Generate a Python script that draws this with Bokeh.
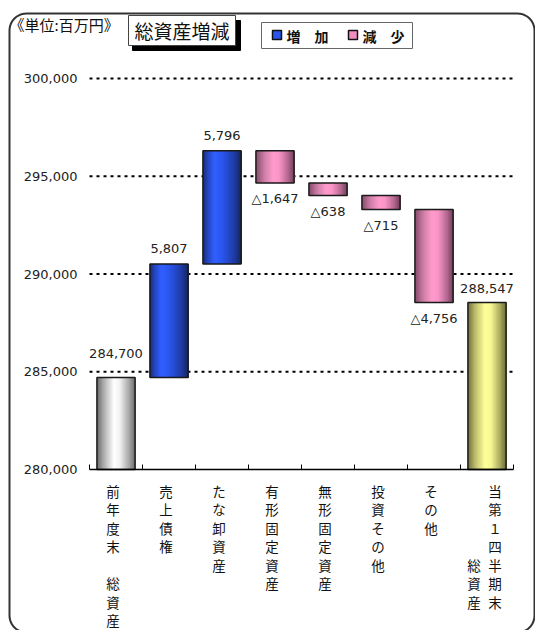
import numpy as np
from bokeh.plotting import figure
from bokeh.models import ColumnDataSource, Range1d, FixedTicker, NumeralTickFormatter
from bokeh.embed import file_html
from bokeh.resources import INLINE
from bokeh.core.properties import value

# ---------------- data ----------------
categories = ["前年度末総資産", "売上債権", "たな卸資産", "有形固定資産",
              "無形固定資産", "投資その他", "その他", "当第１四半期末総資産"]
# vertical rendering of each category label (one string per text column, space = blank line)
label_columns = [["前年度末 総資産"], ["売上債権"], ["たな卸資産"], ["有形固定資産"],
                 ["無形固定資産"], ["投資その他"], ["その他"], ["    総資産", "当第１四半期末"]]
amounts = [284700, 5807, 5796, -1647, -638, -715, -4756, 288547]
kinds = ["total", "inc", "inc", "dec", "dec", "dec", "dec", "total_end"]
y_ticks = [280000, 285000, 290000, 295000, 300000]
unit_text = "《単位:百万円》"
title_text = "総資産増減"
legend_labels = ["増　加", "減　少"]

# ---------------- styles ----------------
FONT = "Noto Sans CJK JP"
NUMFONT = "DejaVu Sans"
gradients = {
    "total": [(0, "#6a6a6a"), (0.2, "#b4b4b4"), (0.45, "#ffffff"), (0.6, "#f2f2f2"), (0.85, "#a4a4a4"), (1, "#6c6c6c")],
    "inc": [(0, "#1a2c74"), (0.12, "#2444bc"), (0.3, "#3060ff"), (0.5, "#2b56ee"), (0.8, "#1f3eaa"), (1, "#172660")],
    "dec": [(0, "#884a6a"), (0.22, "#cc7ea6"), (0.45, "#ff9acc"), (0.6, "#fb96c8"), (0.82, "#bc6c96"), (1, "#74405c")],
    "total_end": [(0, "#70703a"), (0.2, "#c0c070"), (0.45, "#ffff9a"), (0.6, "#f8f892"), (0.85, "#a8a85e"), (1, "#6a6a38")],
}


def hex2rgb(h):
    h = h.lstrip("#")
    return tuple(int(h[i:i + 2], 16) for i in (0, 2, 4))


def interp(stops, f):
    for (f0, c0), (f1, c1) in zip(stops[:-1], stops[1:]):
        if f0 <= f <= f1:
            t = (f - f0) / (f1 - f0) if f1 > f0 else 0
            a, b = hex2rgb(c0), hex2rgb(c1)
            return "#%02x%02x%02x" % tuple(round(a[k] + (b[k] - a[k]) * t) for k in range(3))
    return stops[-1][1]


# ---------------- waterfall geometry from data ----------------
base = y_ticks[0]
bottoms, tops = [], []
running = 0
for a, k in zip(amounts, kinds):
    if k.startswith("total"):
        bottoms.append(base)
        tops.append(a)
        running = a
    elif a >= 0:
        bottoms.append(running)
        tops.append(running + a)
        running += a
    else:
        tops.append(running)
        bottoms.append(running + a)
        running += a

n_cat = len(categories)
centers = [i + 0.5 for i in range(n_cat)]
bar_w = 0.72
N = 30
# gradient: each strip starts further right and runs to the bar's right edge,
# drawn left to right so later strips cover the rest (no seams)
sl, sr, sb, st, sc = [], [], [], [], []
for c, b, t, k in zip(centers, bottoms, tops, kinds):
    for j in range(N):
        f = (j + 0.5) / N
        sl.append(c - bar_w / 2 + j * bar_w / N)
        sr.append(c + bar_w / 2)
        sb.append(b)
        st.append(t)
        sc.append(interp(gradients[k], f))

# ---------------- layout: frame covers whole canvas ----------------
W, H = 535, 630
PX_L, PX_R = 89, 513        # canvas x of category range 0 .. n_cat
PX_B, PX_T = 469, 78        # canvas y of y_ticks[0] .. y_ticks[-1]


def dx(cx):
    return (cx - PX_L) / (PX_R - PX_L) * n_cat


def dy(cy):
    return y_ticks[0] + (PX_B - cy) / (PX_B - PX_T) * (y_ticks[-1] - y_ticks[0])


p = figure(width=W, height=H, output_backend="svg", toolbar_location=None,
           x_range=Range1d(dx(0), dx(W)), y_range=Range1d(dy(H), dy(0)),
           min_border_left=0, min_border_right=0, min_border_top=0, min_border_bottom=0)
p.outline_line_color = None
p.background_fill_color = "white"
p.border_fill_color = "white"
p.xgrid.visible = False
p.ygrid.visible = False

# axes placed at fixed data locations
p.yaxis.fixed_location = 0
p.yaxis.bounds = (y_ticks[0], y_ticks[-1])
p.yaxis.ticker = FixedTicker(ticks=y_ticks)
p.yaxis.formatter = NumeralTickFormatter(format="0,0")
p.yaxis.axis_line_color = None
p.yaxis.major_tick_line_color = None
p.yaxis.major_tick_out = 0
p.yaxis.major_tick_in = 0
p.yaxis.minor_tick_line_color = None
p.yaxis.major_label_standoff = 12
p.yaxis.major_label_text_font = NUMFONT
p.yaxis.major_label_text_font_size = "13px"
p.yaxis.major_label_text_color = "#222222"

xt = list(range(n_cat + 1))
p.xaxis.fixed_location = y_ticks[0]
p.xaxis.bounds = (0, n_cat)
p.xaxis.ticker = FixedTicker(ticks=xt)
p.xaxis.major_label_overrides = {t: "" for t in xt}
p.xaxis.axis_line_color = "black"
p.xaxis.axis_line_width = 1.5
p.xaxis.major_tick_in = 5
p.xaxis.major_tick_out = 0
p.xaxis.major_tick_line_color = "black"
p.xaxis.minor_tick_line_color = None

# dotted horizontal gridlines across the category span
gy = y_ticks[1:]
p.segment(x0=[0] * len(gy), x1=[n_cat] * len(gy), y0=gy, y1=gy,
          line_color="black", line_width=2, line_dash="3 4")

# bars (gradient strips + outline)
p.quad(left="l", right="r", bottom="b", top="t", fill_color="c", line_color=None,
       source=ColumnDataSource(dict(l=sl, r=sr, b=sb, t=st, c=sc)))
p.vbar(x=centers, width=bar_w, bottom=bottoms, top=tops, fill_color=None,
       line_color="#1a1a1a", line_width=1.5)

# value labels (screen offsets from bar ends)
up_off = [-24, -15.5, -15, 0, 0, 0, 0, -14]
lx, ly, lt, lo = [], [], [], []
for i, (c, b, t, a) in enumerate(zip(centers, bottoms, tops, amounts)):
    lx.append(c)
    if a >= 0:
        ly.append(t); lt.append(f"{a:,}"); lo.append(up_off[i])
    else:
        ly.append(b); lt.append(f"△{-a:,}"); lo.append(16)
p.text(x="x", y="y", text="t", y_offset="off", source=ColumnDataSource(dict(x=lx, y=ly, t=lt, off=lo)),
       text_align="center", text_baseline="middle", text_font=value(NUMFONT),
       text_font_size="13px", text_color="#222222")

# vertical category labels below the axis
cx_, cy_, ct_, cxo = [], [], [], []
col_offsets = {1: [-3], 2: [-13, 8]}
for c, cols in zip(centers, label_columns):
    offs = col_offsets[len(cols)]
    for col, xo in zip(cols, offs):
        for li, ch in enumerate(col):
            if ch.strip() == "":
                continue
            cx_.append(c); cy_.append(dy(490 + 18.5 * li)); ct_.append(ch); cxo.append(xo)
p.text(x="x", y="y", text="t", x_offset="xo",
       source=ColumnDataSource(dict(x=cx_, y=cy_, t=ct_, xo=cxo)),
       text_align="center", text_baseline="middle", text_font=value(FONT),
       text_font_size="13.5px", text_color="#111111")


# outer rounded frame
def rounded_rect(l, t, r, b, rad, n=12):
    xs, ys = [], []
    for (ccx, ccy, a0) in [(r - rad, t + rad, -90), (r - rad, b - rad, 0), (l + rad, b - rad, 90), (l + rad, t + rad, 180)]:
        for j in range(n + 1):
            a = np.radians(a0 + 90 * j / n)
            xs.append(dx(ccx + rad * np.cos(a)))
            ys.append(dy(ccy + rad * np.sin(a)))
    xs.append(xs[0]); ys.append(ys[0])
    return xs, ys


bx, by = rounded_rect(9, 13, 534, 632, 17)
p.line(bx, by, line_color="#333333", line_width=2)


def box(l, t, r, b, **kw):
    p.quad(left=dx(l), right=dx(r), top=dy(t), bottom=dy(b), **kw)


def label(x, y, text, align, size, bold=False, font=FONT):
    p.text(x=[dx(x)], y=[dy(y)], text=[text], text_align=align, text_baseline="middle",
           text_font=value(font), text_font_size=size, text_color="#111111",
           text_font_style="bold" if bold else "normal")


# header: unit
label(9, 24, unit_text, "left", "15px")
# title box with shadow
box(132, 20, 240, 50, fill_color="black", line_color="black")
box(128, 15, 235, 45, fill_color="white", line_color="#444444", line_width=1)
label(181.5, 30, title_text, "center", "19px")
# legend
box(261, 22, 412, 48, fill_color="white", line_color="#666666", line_width=1)
box(272, 30, 281, 39, fill_color="#2a55ea", line_color="#111111", line_width=1.5)
box(348, 30, 357, 39, fill_color="#f08cc0", line_color="#111111", line_width=1.5)
label(286, 35, legend_labels[0], "left", "14px", bold=True)
label(362, 35, legend_labels[1], "left", "14px", bold=True)

open("out.html", "w").write(file_html(p, INLINE))
